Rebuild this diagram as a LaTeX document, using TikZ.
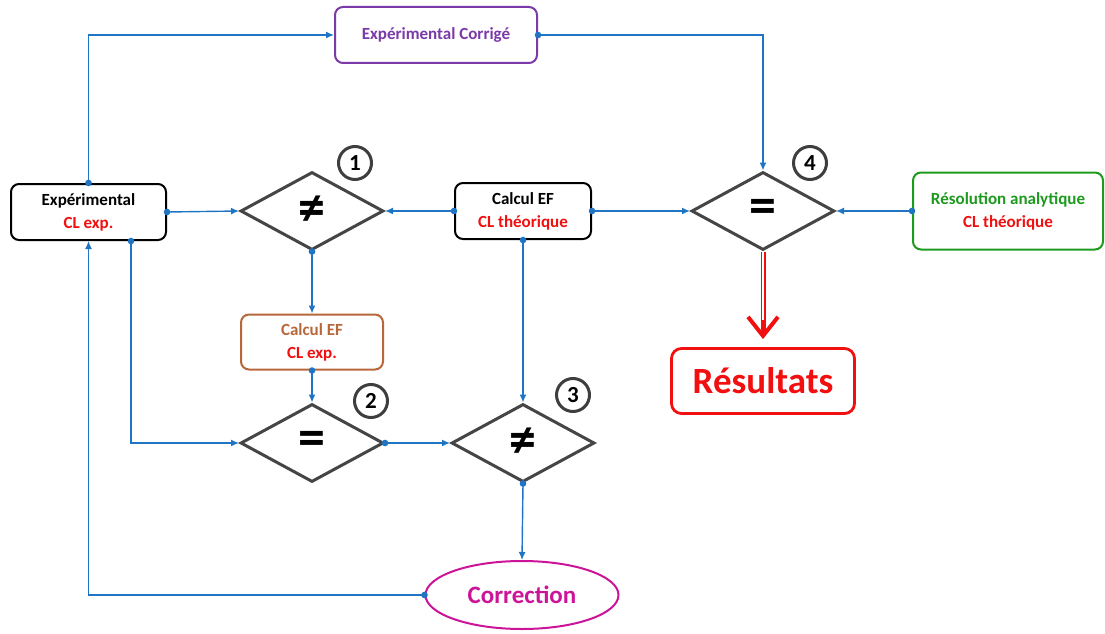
\documentclass[tikz,border=0pt]{standalone}
\usepackage{fontspec}
\setmainfont{Carlito}
\usetikzlibrary{arrows.meta,shapes.geometric}
\definecolor{fcBlue}{HTML}{1F74C4}
\definecolor{fcRed}{HTML}{F20F0F}
\definecolor{fcGreen}{HTML}{1E9A1E}
\definecolor{fcPurple}{HTML}{7A3AA8}
\definecolor{fcBrown}{HTML}{B8673A}
\definecolor{fcMagenta}{HTML}{CC1499}
\definecolor{fcGray}{HTML}{454545}
\tikzset{
  % rounded boxes holding the data sources
  fc/box/.style={
    draw=black, fill=white, line width=2pt, rounded corners=8pt,
    align=center, inner sep=2pt, font=\fontsize{17}{23}\selectfont\bfseries
  },
  % comparison tests
  fc/test/.style={
    diamond, draw=fcGray, line width=3pt, inner sep=0pt,
    minimum width=143pt, minimum height=78pt,
    font=\fontsize{54}{54}\selectfont\bfseries
  },
  % step numbers
  fc/num/.style={
    circle, draw=fcGray!90!black, line width=3pt, inner sep=0pt,
    minimum size=33pt, font=\fontsize{23}{23}\selectfont\bfseries
  },
  % links between steps: the dot sits on the border it leaves
  fc/arrow/.style={
    {Circle[length=6.5pt]}-{Latex[length=8pt,width=7pt]},
    shorten <=-3.2pt, draw=fcBlue, line width=1.4pt
  },
}
\begin{document}
\begin{tikzpicture}[x=1pt,y=-1pt,
  res/.style={draw=fcRed, fill=white, line width=2.8pt, rounded corners=10pt,
              minimum width=183pt, minimum height=65pt, text=fcRed,
              font=\fontsize{37}{40}\selectfont\bfseries},
  toRes/.style={draw=fcRed, double=white, double distance=2.2pt, line width=1.4pt},
  toResTip/.style={draw=fcRed, line width=4pt,
                   -{Straight Barb[length=19pt,width=30pt]}}]
  \useasboundingbox (0,0) rectangle (1105,634);
  % top row
  \node[fc/box, minimum width=155pt, minimum height=56pt] (exp) at (88.5,212)
       {Expérimental\\\textcolor{fcRed}{CL exp.}};
  \node[fc/test] (d1) at (312,211) {≠};
  \node[fc/box, minimum width=136pt, minimum height=56pt] (calc) at (523,211)
       {Calcul EF\\\textcolor{fcRed}{CL théorique}};
  \node[fc/test] (d4) at (763,211) {=};
  \node[fc/box, draw=fcGreen, text=fcGreen, minimum width=190pt, minimum height=77pt]
       (resol) at (1008,211) {Résolution analytique\\\textcolor{fcRed}{CL théorique}};
  \node[fc/box, draw=fcPurple, text=fcPurple, minimum width=202pt, minimum height=56pt]
       (corr) at (436,35) {Expérimental Corrigé};
  % lower part
  \node[fc/box, draw=fcBrown, text=fcBrown, minimum width=142pt, minimum height=55pt]
       (calcexp) at (312,342) {Calcul EF\\\textcolor{fcRed}{CL exp.}};
  \node[fc/test] (d2) at (312,443) {=};
  \node[fc/test] (d3) at (523,443) {≠};
  \node[ellipse, draw=fcMagenta, line width=2pt, minimum width=193pt, minimum height=68pt,
        inner sep=0pt, text=fcMagenta, font=\fontsize{25}{25}\selectfont\bfseries]
       (correc) at (522,595) {Correction};
  \node[res] (out) at (763,381) {Résultats};
  % step numbers
  \node[fc/num] (n1) at (355,163) {1};
  \node[fc/num] (n2) at (371,401) {2};
  \node[fc/num] (n3) at (573,395) {3};
  \node[fc/num] (n4) at (810,163) {4};
  % links
  \draw[fc/arrow] (exp.east) -- (d1.west);
  \draw[fc/arrow] (calc.west) -- (d1.east);
  \draw[fc/arrow] (calc.east) -- (d4.west);
  \draw[fc/arrow] (resol.west) -- (d4.east);
  \draw[fc/arrow] (exp.north) |- (corr.west);
  \draw[fc/arrow] (corr.east) -| (d4.north);
  \draw[fc/arrow] (d1.south) -- (calcexp.north);
  \draw[fc/arrow] (calcexp.south) -- (d2.north);
  \draw[fc/arrow] ([xshift=42.5pt]exp.south) |- (d2.west);
  \draw[fc/arrow] (d2.east) -- (d3.west);
  \draw[fc/arrow] (calc.south) -- (d3.north);
  \draw[fc/arrow] (d3.south) -- (correc.north);
  \draw[fc/arrow] (correc.west) -| (exp.south);
  % result: double shaft, heavy open head
  \draw[toRes, shorten >=12pt] (d4.south) -- (out.north);
  \draw[toResTip, shorten <=68pt, shorten >=8pt] (d4.south) -- (out.north);
\end{tikzpicture}
\end{document}
